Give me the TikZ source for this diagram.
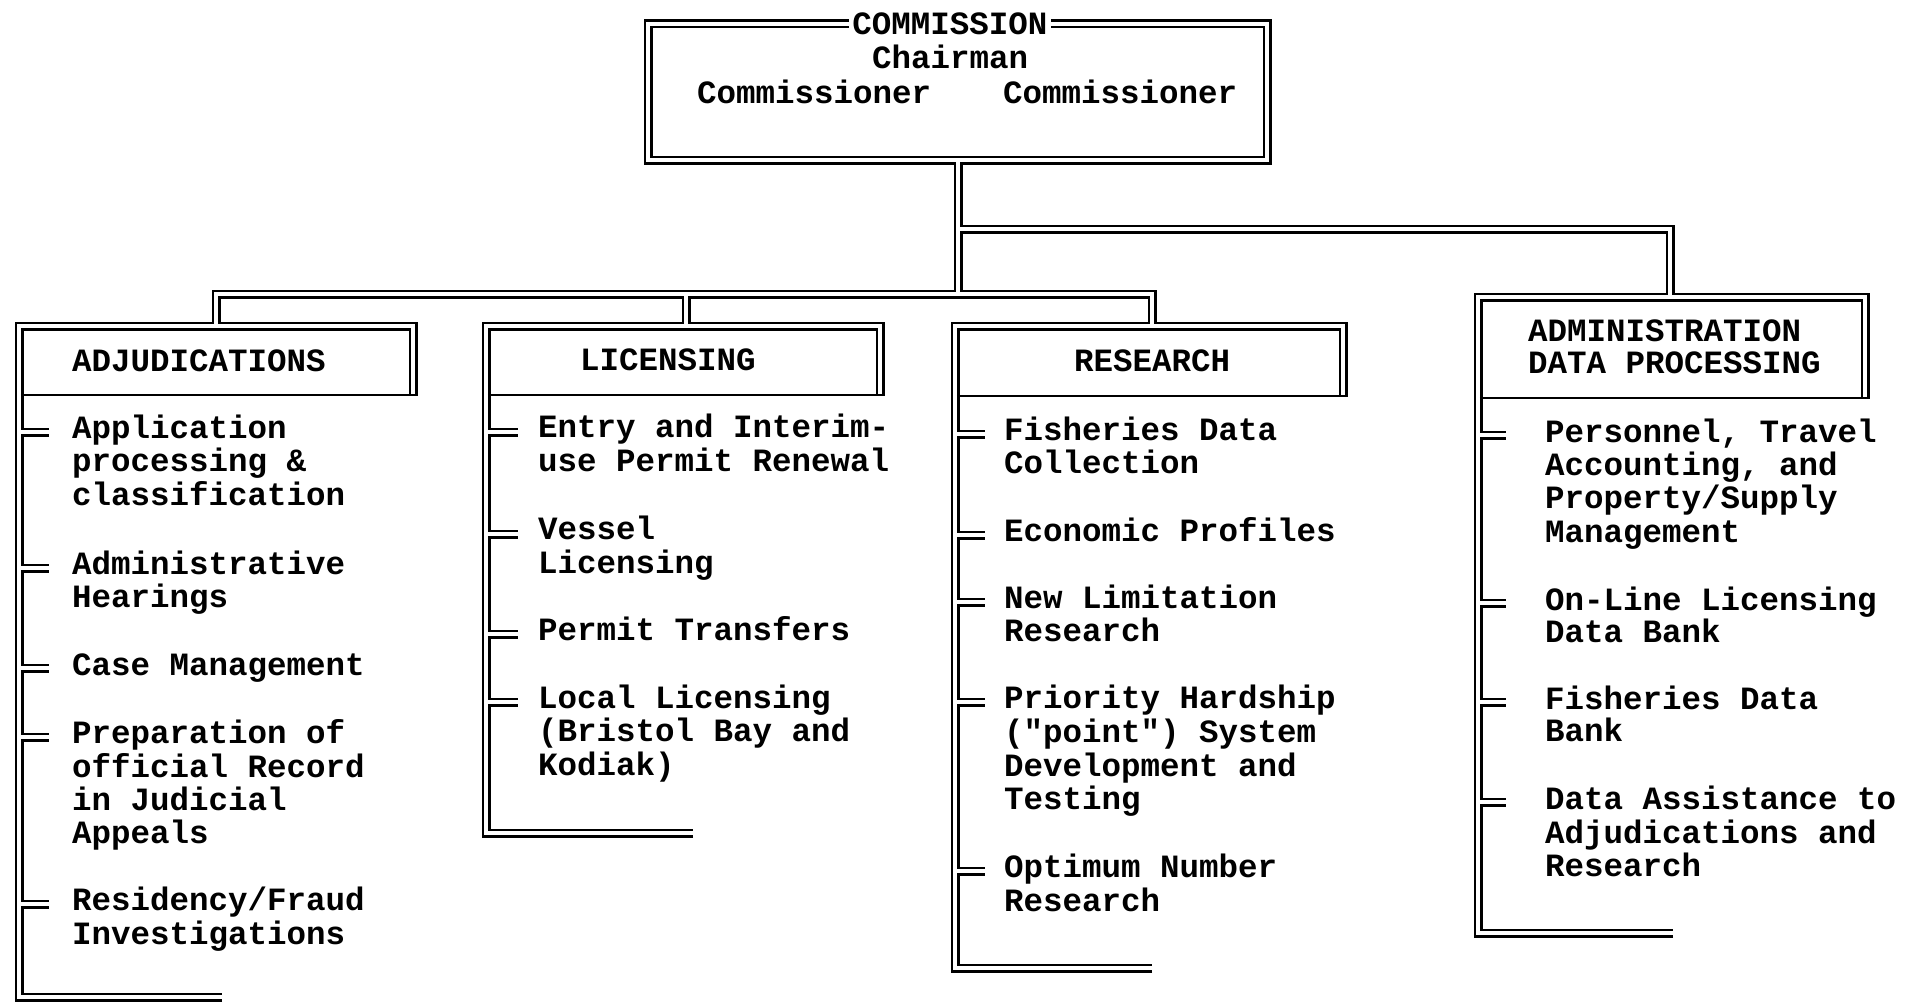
\documentclass[tikz,border=0pt]{standalone}
\usepackage{fontspec}
\newfontfamily\printfont{Liberation Mono}
\begin{document}
\begin{tikzpicture}[x=1pt,y=-1pt,
  pipeouter/.style={line width=9pt, line join=miter, black},
  pipeinner/.style={line width=3.6pt, line join=miter, white},
  rule/.style={line width=2.7pt, black},
  txt/.style={font=\printfont\bfseries\fontsize{32.5}{33.3}\selectfont,
              inner sep=0pt, anchor=base west, text=black},
]
\useasboundingbox (0,0) rectangle (1905,1006);
\fill[white] (0,0) rectangle (1905,1006);

% connection points on the frames
\coordinate (comm-s) at (958,160);
\coordinate (split)  at (958,229);
\coordinate (hub)    at (958,294);
\coordinate (adj-n)  at (216,326);
\coordinate (lic-n)  at (686,326);
\coordinate (res-n)  at (1152,326);
\coordinate (adm-n)  at (1670,297);

% every double-ruled line: drawn black and wide first, then hollowed out in white,
% so that joins and tees open into each other
\def\pipes{
  (648,24) rectangle (1267,160)
  (comm-s) -- (hub)
  (split) -| (adm-n)
  (adj-n) |- (hub) -| (res-n)
  (lic-n) -- (lic-n |- hub)
  % Adjudications
  (222,997) -- (19,997) -- (19,326) -- (413,326) -- (413,395)
  (19,432) -- ++(30,0) (19,568) -- ++(30,0) (19,668) -- ++(30,0)
  (19,737) -- ++(30,0) (19,904) -- ++(30,0)
  % Licensing
  (693,833) -- (486,833) -- (486,326) -- (880,326) -- (880,395)
  (486,432) -- ++(32,0) (486,534) -- ++(32,0) (486,634) -- ++(32,0)
  (486,702) -- ++(32,0)
  % Research
  (1152,968) -- (955,968) -- (955,326) -- (1343,326) -- (1343,396)
  (955,434) -- ++(30,0) (955,535) -- ++(30,0) (955,602) -- ++(30,0)
  (955,702) -- ++(30,0) (955,871) -- ++(30,0)
  % Administration / data processing
  (1673,933) -- (1478,933) -- (1478,297) -- (1865,297) -- (1865,398)
  (1478,435) -- ++(28,0) (1478,603) -- ++(28,0) (1478,702) -- ++(28,0)
  (1478,802) -- ++(28,0)
}
\draw[pipeouter] \pipes;
\draw[pipeinner] \pipes;

% header underlines
\draw[rule] (20.8,395) -- (418,395);
\draw[rule] (487.8,395) -- (885,395);
\draw[rule] (956.8,396) -- (1348,396);
\draw[rule] (1479.8,398) -- (1870,398);

% commission
\node[txt, anchor=center, fill=white, inner xsep=3pt, inner ysep=3pt] (commission) at (950,24) {COMMISSION};
\node[txt, anchor=base] (chairman) at (950,69) {Chairman};
\node[txt] (comm1) at (697,104) {Commissioner};
\node[txt] (comm2) at (1003,104) {Commissioner};

% department headings
\node[txt] (adj-h) at (72,371) {ADJUDICATIONS};
\node[txt] (lic-h) at (580,370) {LICENSING};
\node[txt] (res-h) at (1074,371) {RESEARCH};
\node[txt] (adm-h1) at (1528,341) {ADMINISTRATION};
\node[txt] (adm-h2) at (1528,373) {DATA PROCESSING};

% duties
\foreach \y/\t [count=\i] in {438/Application, 471/processing \&, 505/classification,
    574/Administrative, 607/Hearings, 675/Case Management,
    743/Preparation of, 777/official Record, 810/in Judicial, 843/Appeals,
    910/{Residency/Fraud}, 944/Investigations}
  \node[txt] (adj-\i) at (72,\y) {\t};

\foreach \y/\t [count=\i] in {437/Entry and Interim-, 471/use Permit Renewal,
    539/Vessel, 573/Licensing, 640/Permit Transfers,
    708/Local Licensing, 741/(Bristol Bay and, 775/Kodiak)}
  \node[txt] (lic-\i) at (538,\y) {\t};

\foreach \y/\t [count=\i] in {440/Fisheries Data, 473/Collection, 541/Economic Profiles,
    608/New Limitation, 641/Research, 708/Priority Hardship, 742/("point") System,
    776/Development and, 809/Testing, 877/Optimum Number, 911/Research}
  \node[txt] (res-\i) at (1004,\y) {\t};

\foreach \y/\t [count=\i] in {442/{Personnel, Travel}, 475/{Accounting, and},
    508/{Property/Supply}, 542/Management, 610/On-Line Licensing, 642/Data Bank,
    709/Fisheries Data, 741/Bank, 809/Data Assistance to, 843/Adjudications and,
    876/Research}
  \node[txt] (adm-\i) at (1545,\y) {\t};
\end{tikzpicture}
\end{document}
